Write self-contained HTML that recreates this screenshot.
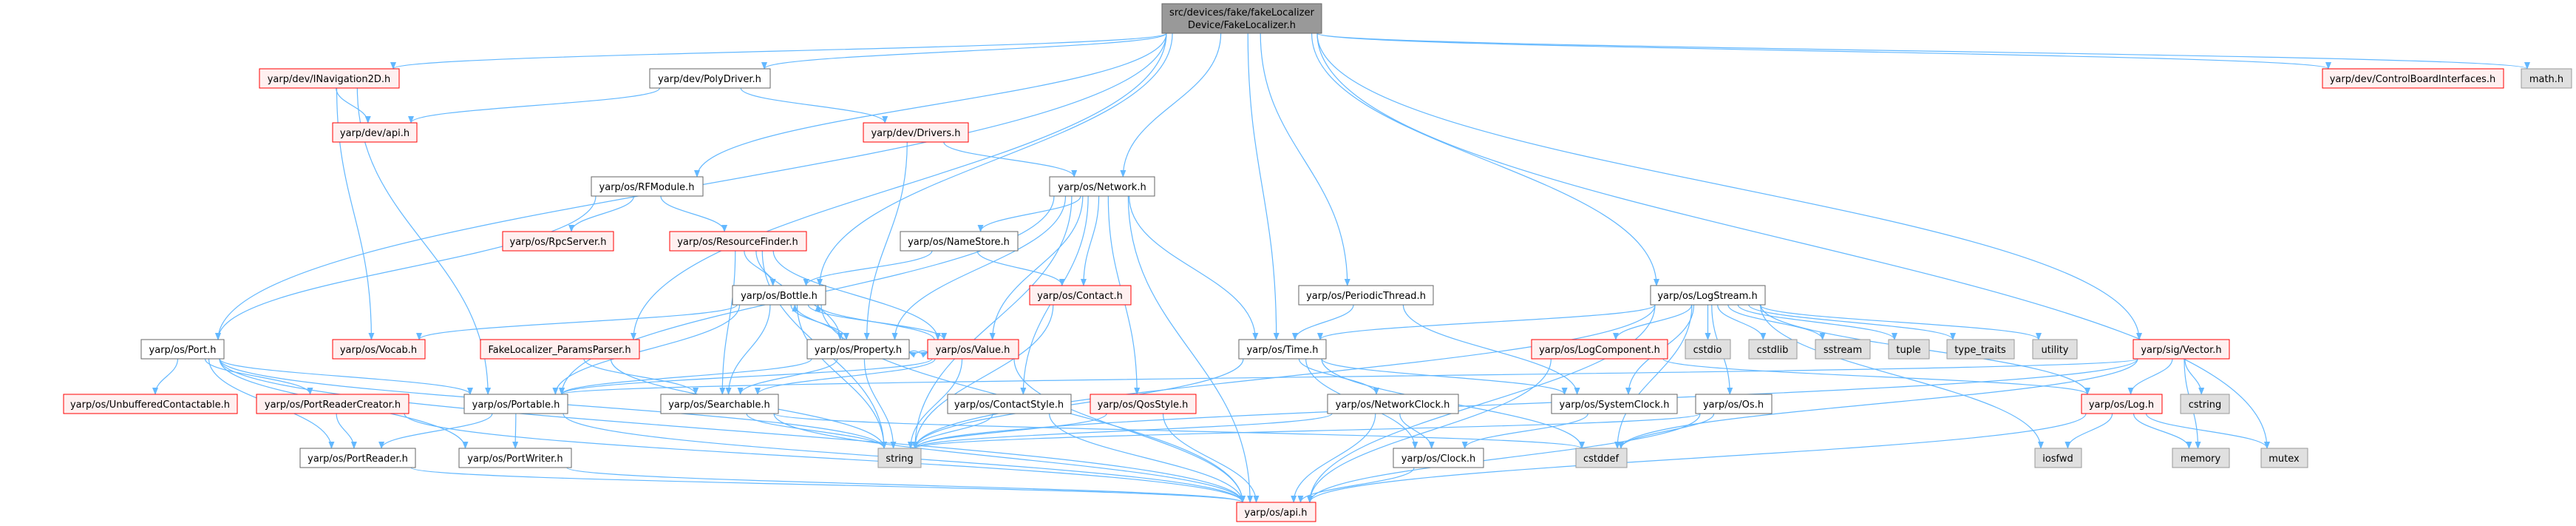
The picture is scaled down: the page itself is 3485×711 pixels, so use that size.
<!DOCTYPE html>
<html><head><meta charset="utf-8"><style>
html,body{margin:0;padding:0;background:#fff;}
svg{display:block;}
text{font-family:"DejaVu Sans","Liberation Sans",sans-serif;font-size:13px;fill:#000;}
</style></head><body>
<svg id="g" width="3485" height="711" viewBox="0 0 3485 711" xmlns="http://www.w3.org/2000/svg">
<defs><marker id="ah" markerWidth="10" markerHeight="8" refX="9" refY="4" orient="auto" markerUnits="userSpaceOnUse"><path d="M0,0 L10,4 L0,8 z" fill="#63b8ff"/></marker></defs>
<g id="edges" fill="none" stroke="#63b8ff" stroke-width="1.2"></g>
<g id="nodes">
<rect x="1572" y="5" width="216" height="40" fill="#999" stroke="#666"/>
<text x="1680" y="21" text-anchor="middle" textLength="196" lengthAdjust="spacingAndGlyphs">src/devices/fake/fakeLocalizer</text>
<text x="1680" y="38" text-anchor="middle" textLength="146" lengthAdjust="spacingAndGlyphs">Device/FakeLocalizer.h</text>
</g>
</svg>
<script>
var R=[5,93,166,239,313,386,459,533,606,679];
var N={
INav:["yarp/dev/INavigation2D.h",351,540,1,"r"],
Poly:["yarp/dev/PolyDriver.h",879,1042,1,"w"],
CBI:["yarp/dev/ControlBoardInterfaces.h",3142,3387,1,"r"],
math:["math.h",3411,3479,1,"g"],
devapi:["yarp/dev/api.h",450,564,2,"r"],
Drv:["yarp/dev/Drivers.h",1168,1310,2,"r"],
RFM:["yarp/os/RFModule.h",800,951,3,"w"],
Net:["yarp/os/Network.h",1420,1562,3,"w"],
Rpc:["yarp/os/RpcServer.h",680,830,4,"r"],
RF:["yarp/os/ResourceFinder.h",906,1091,4,"r"],
NS:["yarp/os/NameStore.h",1218,1377,4,"w"],
Bot:["yarp/os/Bottle.h",991,1117,5,"w"],
Con:["yarp/os/Contact.h",1393,1530,5,"r"],
PT:["yarp/os/PeriodicThread.h",1757,1939,5,"w"],
LS:["yarp/os/LogStream.h",2233,2388,5,"w"],
Port:["yarp/os/Port.h",191,303,6,"w"],
Voc:["yarp/os/Vocab.h",450,575,6,"r"],
PP:["FakeLocalizer_ParamsParser.h",650,865,6,"r"],
Prop:["yarp/os/Property.h",1092,1230,6,"w"],
Val:["yarp/os/Value.h",1255,1378,6,"r"],
Time:["yarp/os/Time.h",1676,1794,6,"w"],
LC:["yarp/os/LogComponent.h",2072,2256,6,"r"],
cstdio:["cstdio",2280,2341,6,"g"],
cstdlib:["cstdlib",2366,2431,6,"g"],
sstream:["sstream",2456,2530,6,"g"],
tuple:["tuple",2555,2610,6,"g"],
tt:["type_traits",2634,2725,6,"g"],
util:["utility",2750,2810,6,"g"],
Vec:["yarp/sig/Vector.h",2886,3016,6,"r"],
UC:["yarp/os/UnbufferedContactable.h",86,321,7,"r"],
PRC:["yarp/os/PortReaderCreator.h",347,553,7,"r"],
Pble:["yarp/os/Portable.h",628,768,7,"w"],
Srch:["yarp/os/Searchable.h",894,1053,7,"w"],
CS:["yarp/os/ContactStyle.h",1282,1449,7,"w"],
Qos:["yarp/os/QosStyle.h",1475,1618,7,"r"],
NC:["yarp/os/NetworkClock.h",1796,1973,7,"w"],
SC:["yarp/os/SystemClock.h",2099,2269,7,"w"],
Os:["yarp/os/Os.h",2294,2397,7,"w"],
Log:["yarp/os/Log.h",2816,2925,7,"r"],
cstring:["cstring",2950,3016,7,"g"],
PR:["yarp/os/PortReader.h",406,562,8,"w"],
PW:["yarp/os/PortWriter.h",621,773,8,"w"],
str:["string",1188,1246,8,"g"],
Clk:["yarp/os/Clock.h",1885,2007,8,"w"],
cstddef:["cstddef",2132,2201,8,"g"],
iosfwd:["iosfwd",2753,2816,8,"g"],
memory:["memory",2939,3016,8,"g"],
mutex:["mutex",3059,3122,8,"g"],
api:["yarp/os/api.h",1673,1780,9,"r"]
};
var E="T>INav T>Poly T>RFM T>Net T>Time T>PT T>LS T>Vec T>mutex T>math T>CBI T>Port T>PP T>Bot "+
"INav>devapi INav>Voc INav>Pble Poly>devapi Poly>Drv Drv>Net Drv>Prop RFM>Port RFM>Rpc RFM>RF "+
"RF>Bot RF>Prop RF>Val RF>Srch RF>str Net>NS Net>Con Net>Val Net>Prop Net>Time Net>CS Net>Qos Net>Pble Net>api Net>str "+
"NS>Con NS>Bot Bot>Voc Bot>Pble Bot>Prop Bot>Srch Bot>Val Bot>str Bot>api Prop>Bot Prop>Val Prop>Srch Prop>Pble Prop>str "+
"Val>Bot Val>Prop Val>Srch Val>Pble Val>str Val>api Port>UC Port>PRC Port>Pble Port>PR Port>PW Port>api Port>str "+
"PRC>PR PRC>api Pble>PR Pble>PW Pble>api PP>Srch PP>str Srch>str Srch>api Srch>cstddef PR>api PW>api Con>str "+
"CS>str CS>api Qos>str Qos>api Time>str Time>NC Time>SC Time>Clk Time>cstddef NC>str NC>Clk NC>api PT>Time PT>SC SC>Clk Clk>api "+
"LS>Time LS>LC LS>cstdio LS>cstdlib LS>sstream LS>tuple LS>tt LS>util LS>Log LS>iosfwd LS>str LS>SC LS>Os LS>api LS>cstddef "+
"LC>Log LC>api Os>str Os>cstddef Os>api Vec>Log Vec>cstring Vec>memory Vec>Pble Vec>str Vec>cstddef Log>iosfwd Log>memory Log>mutex Log>api";
var NS="http://www.w3.org/2000/svg";
var ng=document.getElementById("nodes"),eg=document.getElementById("edges");
function box(k){if(k=="T")return [1572,1788,5,45];var n=N[k];return [n[1],n[2],R[n[3]],R[n[3]]+26];}
E.split(" ").forEach(function(e,i){
 var p=e.split(">"),a=box(p[0]),b=box(p[1]);
 var ax=(a[0]+a[1])/2,bx=(b[0]+b[1])/2,d;
 var off=((i*37)%40-20)*0.0;
 if(b[2]>a[3]-1){
  var sx=Math.max(a[0]+6,Math.min(a[1]-6,ax+(bx-ax)*0.15)),sy=a[3];
  var tx=Math.max(b[0]+8,Math.min(b[1]-8,bx+(ax-bx)*0.15)),ty=b[2];
  var dy=ty-sy;
  d="M"+sx+","+sy+" C"+sx+","+(sy+dy*0.45)+" "+tx+","+(ty-dy*0.45)+" "+tx+","+ty;
 } else if(b[3]<a[2]+1){
  var sx=ax+(bx-ax)*0.2,sy=a[2],tx=bx+(ax-bx)*0.2,ty=b[3];
  d="M"+sx+","+sy+" C"+sx+","+(sy-20)+" "+tx+","+(ty+20)+" "+tx+","+ty;
 } else {
  var sx=ax<bx?a[1]:a[0],tx=ax<bx?b[0]:b[1],sy=(a[2]+a[3])/2+4,ty=(b[2]+b[3])/2+4;
  d="M"+sx+","+sy+" C"+(sx+tx)/2+","+(sy-6)+" "+(sx+tx)/2+","+(ty+6)+" "+tx+","+ty;
 }
 var pa=document.createElementNS(NS,"path");pa.setAttribute("d",d);pa.setAttribute("marker-end","url(#ah)");eg.appendChild(pa);
});
</script>
<svg width="0" height="0" style="position:absolute"></svg>
<div style="display:none"></div>
<svg style="position:absolute;left:0;top:0" width="3485" height="711" viewBox="0 0 3485 711">
<g font-family="DejaVu Sans, Liberation Sans, sans-serif" font-size="13">
<!-- nodes drawn statically -->
<g id="st"></g>
</g>
</svg>
<script>
(function(){
var st=document.getElementById("nodes");
for(var k in N){var n=N[k],y=R[n[3]],w=n[2]-n[1];
 var fill=n[4]=="r"?"#fff0f0":n[4]=="g"?"#e0e0e0":"#fff",stroke=n[4]=="r"?"#ff0000":n[4]=="g"?"#999":"#666";
 var r=document.createElementNS(NS,"rect");r.setAttribute("x",n[1]);r.setAttribute("y",y);r.setAttribute("width",w);r.setAttribute("height",26);r.setAttribute("fill",fill);r.setAttribute("stroke",stroke);st.appendChild(r);}
})();
</script>
<svg style="position:absolute;left:0;top:0;pointer-events:none" width="3485" height="711" viewBox="0 0 3485 711" font-family="DejaVu Sans, Liberation Sans, sans-serif" font-size="13" text-anchor="middle">
<text x="445" y="111">yarp/dev/INavigation2D.h</text>
<text x="960" y="111">yarp/dev/PolyDriver.h</text>
<text x="3264" y="111">yarp/dev/ControlBoardInterfaces.h</text>
<text x="3445" y="111">math.h</text>
<text x="507" y="184">yarp/dev/api.h</text>
<text x="1239" y="184">yarp/dev/Drivers.h</text>
<text x="875" y="257">yarp/os/RFModule.h</text>
<text x="1491" y="257">yarp/os/Network.h</text>
<text x="755" y="331">yarp/os/RpcServer.h</text>
<text x="998" y="331">yarp/os/ResourceFinder.h</text>
<text x="1297" y="331">yarp/os/NameStore.h</text>
<text x="1054" y="404">yarp/os/Bottle.h</text>
<text x="1461" y="404">yarp/os/Contact.h</text>
<text x="1848" y="404">yarp/os/PeriodicThread.h</text>
<text x="2310" y="404">yarp/os/LogStream.h</text>
<text x="247" y="477">yarp/os/Port.h</text>
<text x="512" y="477">yarp/os/Vocab.h</text>
<text x="757" y="477">FakeLocalizer_ParamsParser.h</text>
<text x="1161" y="477">yarp/os/Property.h</text>
<text x="1316" y="477">yarp/os/Value.h</text>
<text x="1735" y="477">yarp/os/Time.h</text>
<text x="2164" y="477">yarp/os/LogComponent.h</text>
<text x="2310" y="477">cstdio</text>
<text x="2398" y="477">cstdlib</text>
<text x="2493" y="477">sstream</text>
<text x="2582" y="477">tuple</text>
<text x="2679" y="477">type_traits</text>
<text x="2780" y="477">utility</text>
<text x="2951" y="477">yarp/sig/Vector.h</text>
<text x="203" y="551">yarp/os/UnbufferedContactable.h</text>
<text x="450" y="551">yarp/os/PortReaderCreator.h</text>
<text x="698" y="551">yarp/os/Portable.h</text>
<text x="973" y="551">yarp/os/Searchable.h</text>
<text x="1365" y="551">yarp/os/ContactStyle.h</text>
<text x="1546" y="551">yarp/os/QosStyle.h</text>
<text x="1884" y="551">yarp/os/NetworkClock.h</text>
<text x="2184" y="551">yarp/os/SystemClock.h</text>
<text x="2345" y="551">yarp/os/Os.h</text>
<text x="2870" y="551">yarp/os/Log.h</text>
<text x="2983" y="551">cstring</text>
<text x="484" y="624">yarp/os/PortReader.h</text>
<text x="697" y="624">yarp/os/PortWriter.h</text>
<text x="1217" y="624">string</text>
<text x="1946" y="624">yarp/os/Clock.h</text>
<text x="2166" y="624">cstddef</text>
<text x="2784" y="624">iosfwd</text>
<text x="2977" y="624">memory</text>
<text x="3090" y="624">mutex</text>
<text x="1726" y="697">yarp/os/api.h</text>
</svg>
<script>
(function(){var t=document.querySelectorAll("svg:last-of-type text");
for(var i=0;i<t.length;i++){var el=t[i],x=+el.getAttribute("x"),y=+el.getAttribute("y"),best=null;
 for(var k in N){var n=N[k];if(x>n[1]&&x<n[2]&&Math.abs(R[n[3]]+18-y)<3){best=n;}}
 if(best){var w=best[2]-best[1]-14,bb=el.getComputedTextLength();if(bb>w){el.setAttribute("textLength",w);el.setAttribute("lengthAdjust","spacingAndGlyphs");}}}
})();
</script>
</body></html>
